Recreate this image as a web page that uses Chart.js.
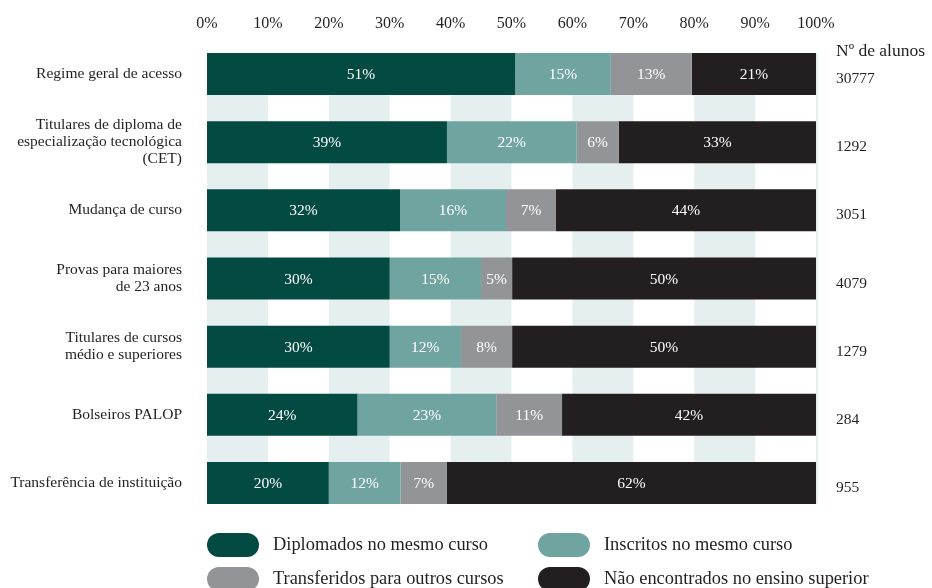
<!DOCTYPE html>
<html><head><meta charset="utf-8">
<script src="https://cdn.jsdelivr.net/npm/chart.js@4/dist/chart.umd.min.js"></script>
<style>html,body{margin:0;padding:0;background:#fff}#wrap{width:932px;height:588px;position:relative}</style>
</head><body><div id="wrap"><canvas id="c" width="932" height="588"></canvas></div>
<script>
const categories = [
  "Regime geral de acesso",
  ["Titulares de diploma de", "especialização tecnológica", "(CET)"],
  "Mudança de curso",
  ["Provas para maiores", "de 23 anos"],
  ["Titulares de cursos", "médio e superiores"],
  "Bolseiros PALOP",
  "Transferência de instituição"
];
const seriesNames = ["Diplomados no mesmo curso", "Inscritos no mesmo curso", "Transferidos para outros cursos", "Não encontrados no ensino superior"];
// segment widths (%)
const diplomados     = [50.6, 39.4, 31.7, 30.0, 30.0, 24.7, 20.0];
const inscritos      = [15.7, 21.3, 17.4, 15.0, 11.7, 22.8, 11.8];
const transferidos   = [13.3,  6.9,  8.2,  5.1,  8.4, 10.8,  7.6];
const naoEncontrados = [20.4, 32.4, 42.7, 49.9, 49.9, 41.7, 60.6];
// printed labels
const labelsDiplomados   = [51, 39, 32, 30, 30, 24, 20];
const labelsInscritos    = [15, 22, 16, 15, 12, 23, 12];
const labelsTransferidos = [13, 6, 7, 5, 8, 11, 7];
const labelsNao          = [21, 33, 44, 50, 50, 42, 62];
const nAlunos = ["30777", "1292", "3051", "4079", "1279", "284", "955"];
const nAlunosTitle = "Nº de alunos";
const tickStep = 10;

const colors = ["#034b42", "#70a4a1", "#929497", "#231f20"];
const FONT = "'Liberation Serif', 'Times New Roman', serif";
const TEXT = "#231f20";
const BAND = "#e5eff0";

const seriesData = [diplomados, inscritos, transferidos, naoEncontrados];
const seriesLabels = [labelsDiplomados, labelsInscritos, labelsTransferidos, labelsNao];

const bandsPlugin = {
  id: 'bands',
  beforeDatasetsDraw(chart) {
    const ctx = chart.ctx, xs = chart.scales.x;
    const meta = chart.getDatasetMeta(0);
    const first = meta.data[0], last = meta.data[meta.data.length - 1];
    const top = first.y - first.height / 2, bottom = last.y + last.height / 2;
    ctx.save();
    ctx.fillStyle = BAND;
    for (let v = 0; v < 100; v += 2 * tickStep) {
      const x0 = xs.getPixelForValue(v), x1 = xs.getPixelForValue(v + tickStep);
      ctx.fillRect(x0, top, x1 - x0, bottom - top);
    }
    const x100 = xs.getPixelForValue(100);
    ctx.fillRect(x100, top, 2, bottom - top);
    ctx.restore();
  }
};

const labelsPlugin = {
  id: 'segLabels',
  afterDatasetsDraw(chart) {
    const ctx = chart.ctx;
    ctx.save();
    ctx.fillStyle = '#ffffff';
    ctx.font = "15.5px " + FONT;
    ctx.textAlign = 'center';
    ctx.textBaseline = 'middle';
    chart.data.datasets.forEach((ds, di) => {
      const meta = chart.getDatasetMeta(di);
      meta.data.forEach((el, i) => {
        const cx = (el.x + el.base) / 2;
        ctx.fillText(seriesLabels[di][i] + '%', cx, el.y + 1);
      });
    });
    ctx.restore();
  },
  afterDraw(chart) {
    const ctx = chart.ctx, ys = chart.scales.y, ca = chart.chartArea;
    ctx.save();
    ctx.fillStyle = TEXT;
    ctx.textAlign = 'left';
    ctx.textBaseline = 'middle';
    const xr = ca.right + 20;
    ctx.font = "17.5px " + FONT;
    ctx.fillText(nAlunosTitle, xr, ca.top + 11);
    ctx.font = "15.5px " + FONT;
    nAlunos.forEach((n, i) => {
      ctx.fillText(n, xr, ys.getPixelForValue(i) + 5);
    });
    // legend
    chart.data.datasets.forEach((ds, i) => {
      const col = i % 2, row = Math.floor(i / 2);
      const sx = col === 0 ? 207 : 538;
      const cy = 545 + row * 34;
      const w = 52, h = 24, r = 12;
      ctx.fillStyle = ds.backgroundColor;
      ctx.beginPath();
      ctx.moveTo(sx + r, cy - h / 2);
      ctx.lineTo(sx + w - r, cy - h / 2);
      ctx.arc(sx + w - r, cy, r, -Math.PI / 2, Math.PI / 2);
      ctx.lineTo(sx + r, cy + h / 2);
      ctx.arc(sx + r, cy, r, Math.PI / 2, 3 * Math.PI / 2);
      ctx.closePath();
      ctx.fill();
      ctx.fillStyle = TEXT;
      ctx.font = "18.4px " + FONT;
      ctx.fillText(ds.label, sx + 66, cy);
    });
    ctx.restore();
  }
};

new Chart(document.getElementById('c'), {
  type: 'bar',
  data: {
    labels: categories,
    datasets: seriesNames.map((name, i) => ({
      label: name,
      data: seriesData[i],
      backgroundColor: colors[i],
      borderWidth: 0,
      barPercentage: 0.616,
      categoryPercentage: 1.0
    }))
  },
  options: {
    indexAxis: 'y',
    responsive: false,
    animation: false,
    devicePixelRatio: 1,
    layout: { padding: { left: 0, right: 116, top: 0, bottom: 71 } },
    plugins: { legend: { display: false }, tooltip: { enabled: false } },
    scales: {
      x: {
        position: 'top',
        stacked: true,
        min: 0, max: 100,
        grid: { display: false, drawTicks: false },
        border: { display: false },
        ticks: {
          stepSize: tickStep,
          autoSkip: false,
          maxRotation: 0,
          padding: 7,
          color: TEXT,
          font: { family: FONT, size: 16 },
          callback: v => v + '%'
        },
        afterFit(scale) { scale.height = 40; }
      },
      y: {
        stacked: true,
        grid: { display: false, drawTicks: false },
        border: { display: false },
        ticks: {
          padding: 25,
          color: TEXT,
          font: { family: FONT, size: 15.5, lineHeight: 1.1 }
        },
        afterFit(scale) { scale.width = 207; }
      }
    }
  },
  plugins: [bandsPlugin, labelsPlugin]
});
</script>
</body></html>
